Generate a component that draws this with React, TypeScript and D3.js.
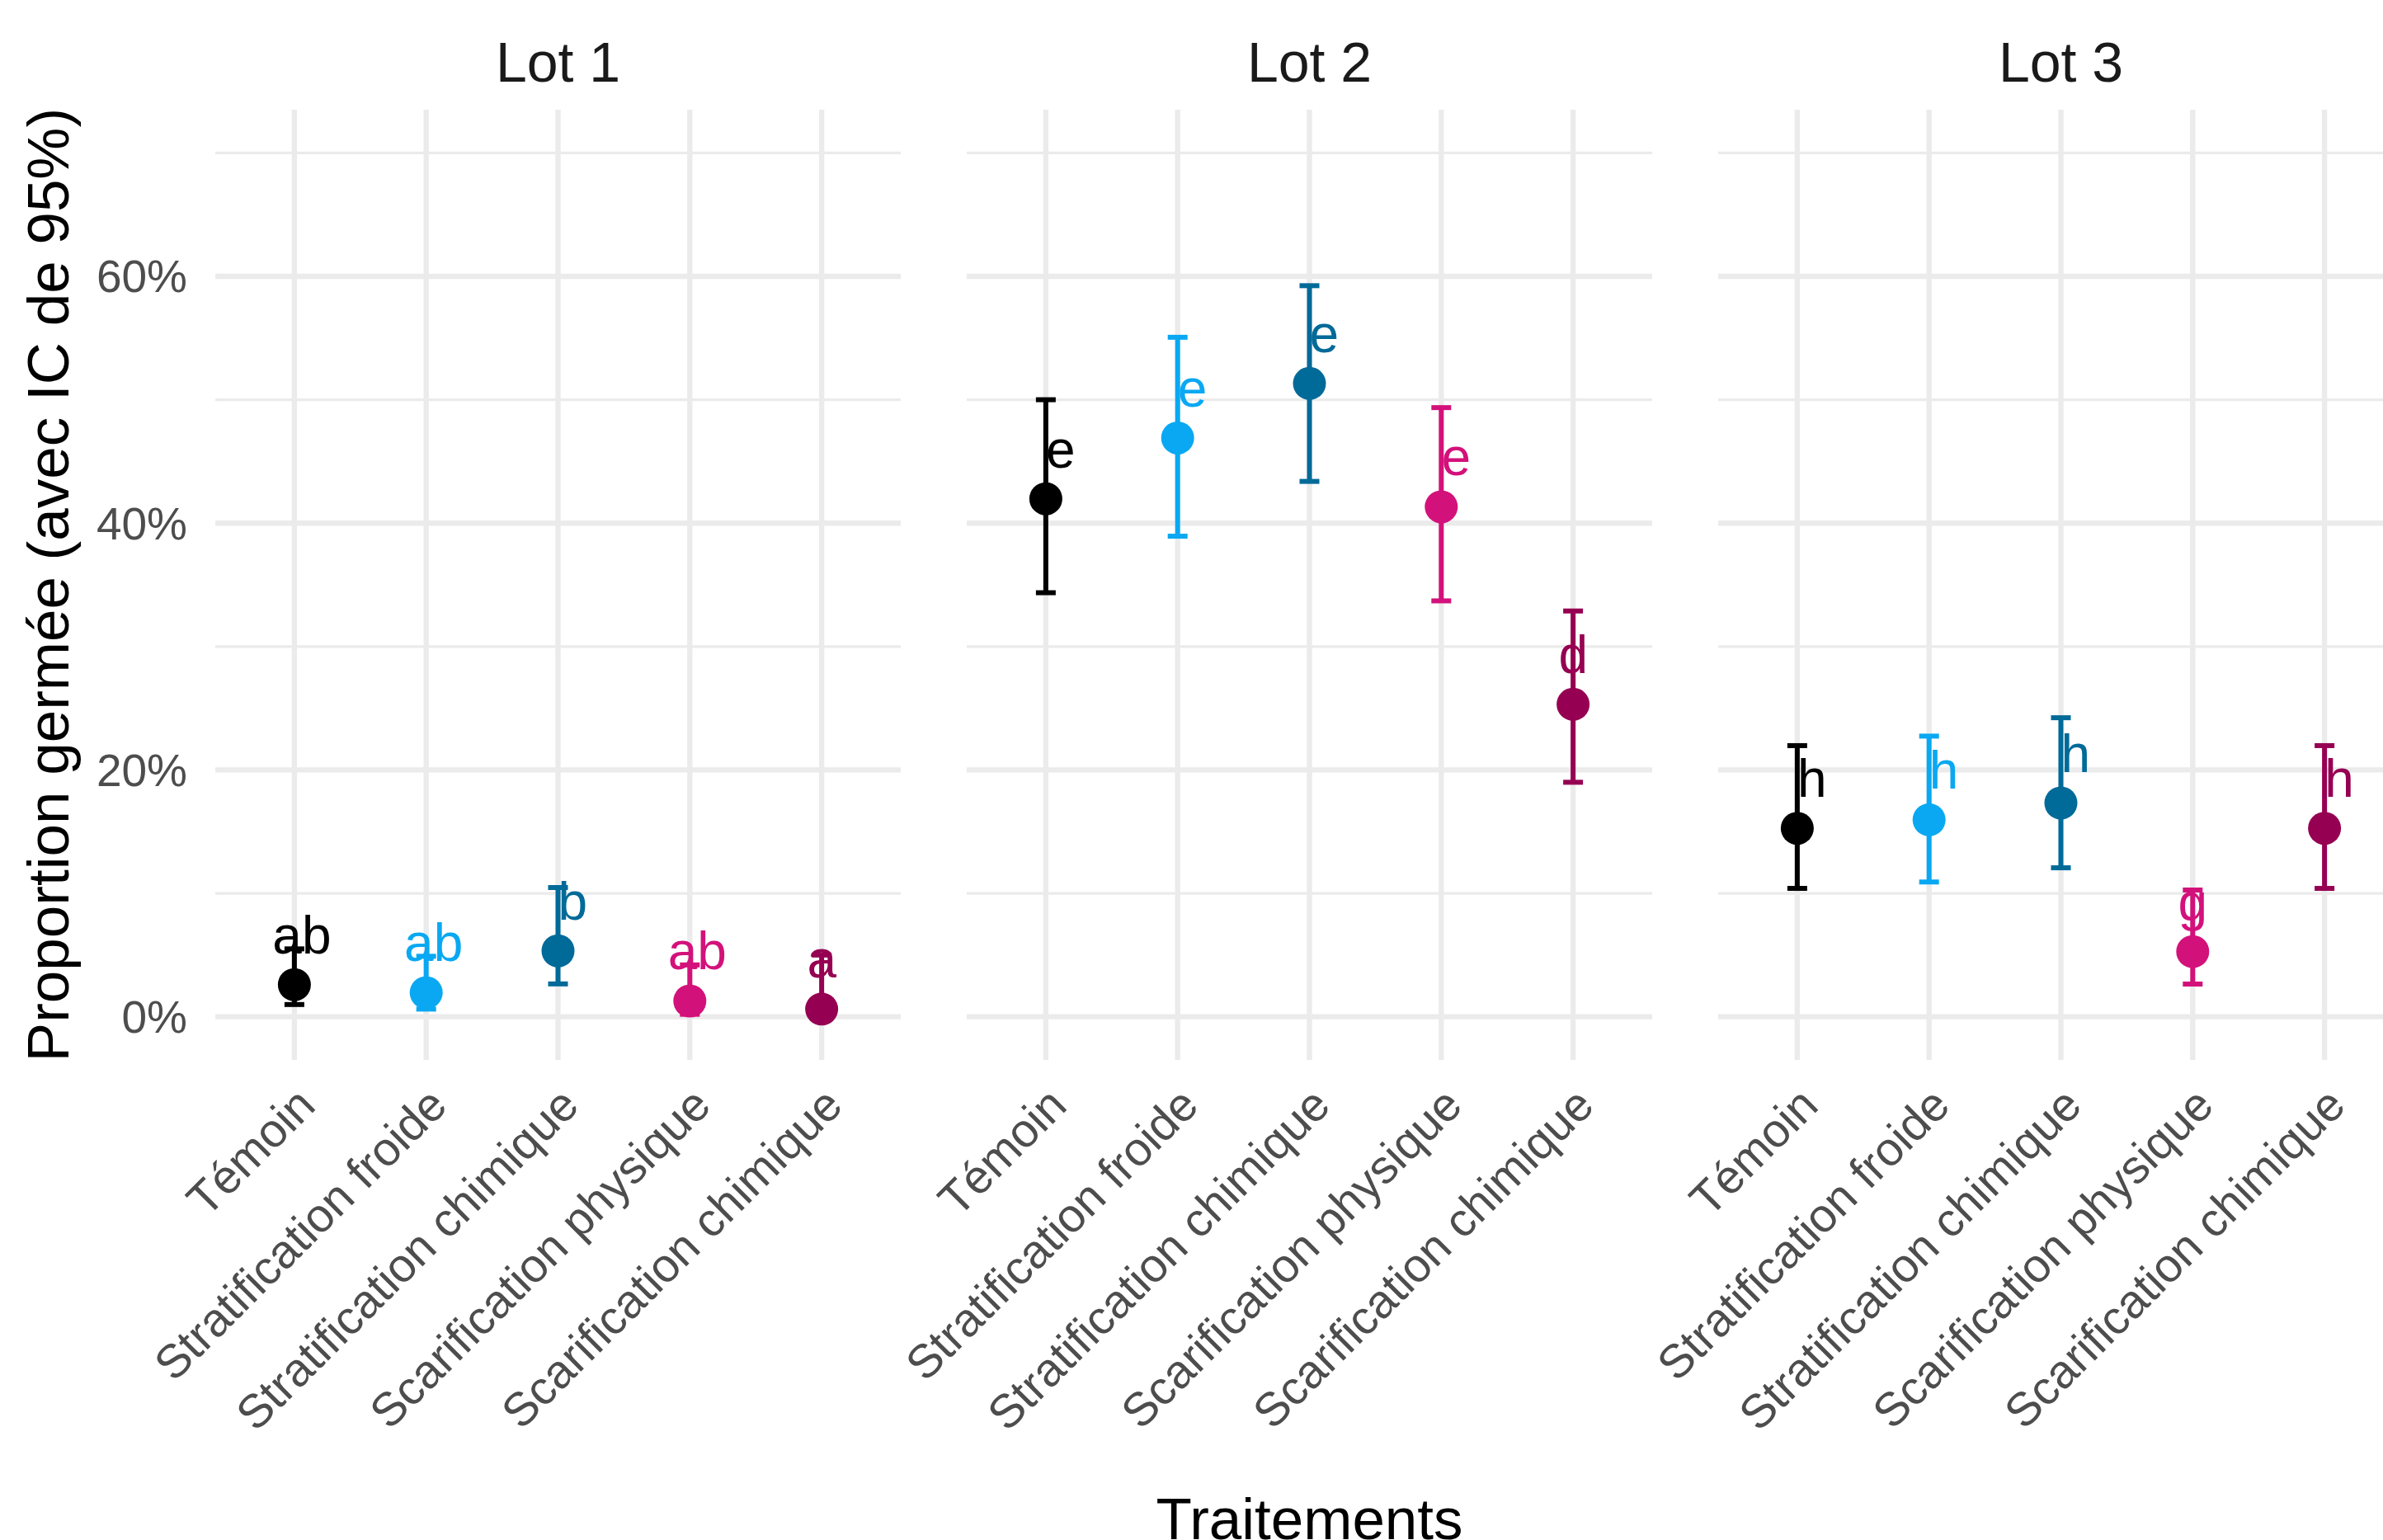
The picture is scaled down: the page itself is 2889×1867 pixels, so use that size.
import React from "react";
import * as d3 from "d3";

const categories = [
  "Témoin",
  "Stratification froide",
  "Stratification chimique",
  "Scarification physique",
  "Scarification chimique",
];
const lots = ["Lot 1", "Lot 2", "Lot 3"];
const colors = ["#000000", "#0AA8F2", "#006A98", "#D3117B", "#960052"];

const lot1Prop = [0.026, 0.0195, 0.0534, 0.0128, 0.0062];
const lot2Prop = [0.4197, 0.469, 0.5132, 0.4132, 0.2532];
const lot3Prop = [0.1527, 0.1596, 0.1732, 0.0528, 0.1527];

const lot1Low = [0.0099, 0.0062, 0.0266, 0.002, 0.0005];
const lot2Low = [0.3436, 0.3894, 0.4338, 0.337, 0.19];
const lot3Low = [0.104, 0.1092, 0.1207, 0.0265, 0.104];

const lot1Up = [0.055, 0.049, 0.1047, 0.042, 0.05];
const lot2Up = [0.5, 0.5506, 0.5924, 0.4936, 0.3288];
const lot3Up = [0.2197, 0.2274, 0.2423, 0.1027, 0.2197];

const lot1Letters = ["ab", "ab", " b", "ab", "a "];
const lot2Letters = [" e", " e", " e", " e", "d "];
const lot3Letters = [" h", " h", " h", "g ", " h"];

const yMajor = [0, 0.2, 0.4, 0.6];
const yMinor = [0.1, 0.3, 0.5, 0.7];

const W = 2889;
const H = 1867;
const FONT = "'Liberation Sans', Arial, Helvetica, sans-serif";

const panelTop = 133;
const panelBottom = 1285;
const panelLeft0 = 261;
const panelW = 831;
const panelGap = 80;

export default function App() {
  const props = [lot1Prop, lot2Prop, lot3Prop];
  const lows = [lot1Low, lot2Low, lot3Low];
  const ups = [lot1Up, lot2Up, lot3Up];
  const letters = [lot1Letters, lot2Letters, lot3Letters];

  const y = d3.scaleLinear().domain([-0.035, 0.735]).range([panelBottom, panelTop]);
  const fmt = d3.format(".0%");

  return (
    <svg
      width={W}
      height={H}
      style={{ position: "absolute", left: 0, top: 0, background: "#fff", display: "block" }}
      fontFamily={FONT}
    >
      <rect x={0} y={0} width={W} height={H} fill="#fff" />
      {/* y tick labels */}
      {yMajor.map((t) => (
        <text
          key={"yt" + t}
          x={227}
          y={y(t)}
          dy="0.355em"
          textAnchor="end"
          fontSize={55}
          fill="#4D4D4D"
        >
          {fmt(t)}
        </text>
      ))}
      {/* y title */}
      <text
        transform={`translate(83,${(panelTop + panelBottom) / 2}) rotate(-90)`}
        textAnchor="middle"
        fontSize={71}
        fill="#000"
      >
        Proportion germée (avec IC de 95%)
      </text>
      {lots.map((lot, li) => {
        const left = panelLeft0 + li * (panelW + panelGap);
        const x = d3
          .scalePoint<string>()
          .domain(categories)
          .range([left, left + panelW])
          .padding(0.6);
        return (
          <g key={lot}>
            {/* grid */}
            {yMinor.map((t) => (
              <line
                key={"mi" + t}
                x1={left}
                x2={left + panelW}
                y1={y(t)}
                y2={y(t)}
                stroke="#EBEBEB"
                strokeWidth={3.2}
              />
            ))}
            {yMajor.map((t) => (
              <line
                key={"ma" + t}
                x1={left}
                x2={left + panelW}
                y1={y(t)}
                y2={y(t)}
                stroke="#EBEBEB"
                strokeWidth={6.4}
              />
            ))}
            {categories.map((c) => (
              <line
                key={"v" + c}
                x1={x(c)}
                x2={x(c)}
                y1={panelTop}
                y2={panelBottom}
                stroke="#EBEBEB"
                strokeWidth={6.4}
              />
            ))}
            {/* strip */}
            <text
              x={left + panelW / 2}
              y={99}
              textAnchor="middle"
              fontSize={68}
              fill="#1A1A1A"
            >
              {lot}
            </text>
            {/* error bars */}
            {categories.map((c, i) => {
              const cx = x(c)!;
              return (
                <g key={"e" + c} stroke={colors[i]} strokeWidth={6}>
                  <line x1={cx} x2={cx} y1={y(lows[li][i])} y2={y(ups[li][i])} />
                  <line x1={cx - 12} x2={cx + 12} y1={y(lows[li][i])} y2={y(lows[li][i])} />
                  <line x1={cx - 12} x2={cx + 12} y1={y(ups[li][i])} y2={y(ups[li][i])} />
                </g>
              );
            })}
            {/* points */}
            {categories.map((c, i) => (
              <circle key={"p" + c} cx={x(c)} cy={y(props[li][i])} r={20} fill={colors[i]} />
            ))}
            {/* letters */}
            {categories.map((c, i) => (
              <text
                key={"l" + c}
                x={x(c)! + 9}
                y={y(props[li][i]) - 38}
                textAnchor="middle"
                fontSize={64}
                fill={colors[i]}
                style={{ whiteSpace: "pre" }}
              >
                {letters[li][i]}
              </text>
            ))}
            {/* x tick labels */}
            {categories.map((c) => (
              <text
                key={"xt" + c}
                transform={`translate(${x(c)! + 28},1343) rotate(-45)`}
                textAnchor="end"
                fontSize={57}
                fill="#4D4D4D"
              >
                {c}
              </text>
            ))}
          </g>
        );
      })}
      <text
        x={panelLeft0 + (3 * panelW + 2 * panelGap) / 2}
        y={1866}
        textAnchor="middle"
        fontSize={71}
        fill="#000"
      >
        Traitements
      </text>
    </svg>
  );
}
